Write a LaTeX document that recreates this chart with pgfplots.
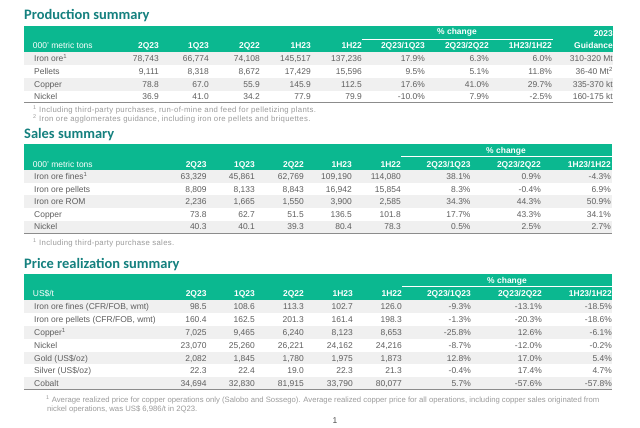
\documentclass[border=0pt]{standalone}
\usepackage{pgfplots}
\pgfplotsset{compat=1.18}
\usepackage{pgfplotstable}
\usepackage{fontspec}
\setmainfont{Liberation Sans}
\newfontfamily\titlefont{Carlito}
\newfontfamily\footfamily{Liberation Sans}[LetterSpace=4]
\definecolor{vgreen}{HTML}{0BB890}
\definecolor{vteal}{HTML}{14807E}
\definecolor{vtext}{HTML}{5E5E5E}
\definecolor{vband}{HTML}{F0F0F0}
\definecolor{vfoot}{HTML}{9A9A9A}
\definecolor{vline}{HTML}{8C8C8C}
\newcommand\tabfont{\fontsize{8.5}{10}\selectfont}
\newcommand\footfont{\footfamily\fontsize{7.8}{9}\selectfont}
\newcommand\footfontb{\fontsize{7.75}{9}\selectfont}
\newcommand\ttlfont{\titlefont\bfseries\fontsize{14.5}{16}\selectfont}
\newcommand\hdr[3]{\node[anchor=base east, inner sep=0pt, font=\tabfont\bfseries, text=white] at (axis cs:#1,#2) {#3};}
\newcommand\rlab[2]{\node[anchor=base west, inner sep=0pt, font=\tabfont, text=vtext] at (axis cs:34,#1) {#2};}
\newcommand\rtxt[2]{\node[anchor=base east, inner sep=0pt, font=\tabfont, text=vtext] at (axis cs:613,#1) {#2};}
\newcommand\band[4]{\fill[vband] (axis cs:#1,#2) rectangle (axis cs:#3,#4);}

% y = baseline position of the row (in px of the reference)
\pgfplotstableread{
y a b c d e f g h
61.8 78,743 66,774 74,108 145,517 137,236 17.9 6.3 6.0
74.5 9,111 8,318 8,672 17,429 15,596 9.5 5.1 11.8
87.2 78.8 67.0 55.9 145.9 112.5 17.6 41.0 29.7
99.9 36.9 41.0 34.2 77.9 79.9 -10.0 7.9 -2.5
}\prodtab
\pgfplotstableread{
y a b c d e f g h
179.3 63,329 45,861 62,769 109,190 114,080 38.1 0.9 -4.3
192.0 8,809 8,133 8,843 16,942 15,854 8.3 -0.4 6.9
204.5 2,236 1,665 1,550 3,900 2,585 34.3 44.3 50.9
217.3 73.8 62.7 51.5 136.5 101.8 17.7 43.3 34.1
229.8 40.3 40.1 39.3 80.4 78.3 0.5 2.5 2.7
}\salestab
\pgfplotstableread{
y a b c d e f g h
309.7 98.5 108.6 113.3 102.7 126.0 -9.3 -13.1 -18.5
322.5 160.4 162.5 201.3 161.4 198.3 -1.3 -20.3 -18.6
335.3 7,025 9,465 6,240 8,123 8,653 -25.8 12.6 -6.1
348.0 23,070 25,260 26,221 24,162 24,216 -8.7 -12.0 -0.2
361.0 2,082 1,845 1,780 1,975 1,873 12.8 17.0 5.4
373.7 22.3 22.4 19.0 22.3 21.3 -0.4 17.4 4.7
386.5 34,694 32,830 81,915 33,790 80,077 5.7 -57.6 -57.8
}\pricetab

\pgfplotsset{
  valcol/.style={draw=none, mark=none, forget plot, point meta=explicit symbolic,
    nodes near coords={\pgfplotspointmeta},
    every node near coord/.append style={anchor=base east, inner sep=0pt, font=\tabfont, text=vtext}},
  pctcol/.style={draw=none, mark=none, forget plot, point meta=explicit symbolic,
    nodes near coords={\pgfplotspointmeta\%},
    every node near coord/.append style={anchor=base east, inner sep=0pt, font=\tabfont, text=vtext}},
}

\begin{document}
\begin{tikzpicture}
\begin{axis}[scale only axis, width=640bp, height=427bp,
  xmin=0, xmax=640, ymin=0, ymax=427, y dir=reverse,
  axis lines=none, ticks=none, clip=false]
\path (axis cs:0,0) rectangle (axis cs:640,427);

% ---------- Production summary ----------
\node[anchor=base west, inner sep=0pt, font=\ttlfont, text=vteal] at (axis cs:24,20) {Production summary};
\fill[vgreen] (axis cs:24,26) rectangle (axis cs:613,52);
\band{24}{52}{613}{65.1}
\band{24}{77.8}{613}{90.5}
\draw[vline, line width=1.2pt] (axis cs:24,102.8) -- (axis cs:613,102.8);
\draw[white, line width=0.6pt] (axis cs:362,39) -- (axis cs:553,39);
\node[anchor=base, inner sep=0pt, font=\tabfont\bfseries, text=white] at (axis cs:457,35) {\% change};
\node[anchor=base west, inner sep=0pt, font=\tabfont, text=white] at (axis cs:32.7,48.5) {000' metric tons};
\hdr{159}{48.5}{2Q23}
\hdr{209}{48.5}{1Q23}
\hdr{260}{48.5}{2Q22}
\hdr{311}{48.5}{1H23}
\hdr{362}{48.5}{1H22}
\hdr{425}{48.5}{2Q23/1Q23}
\hdr{489}{48.5}{2Q23/2Q22}
\hdr{552}{48.5}{1H23/1H22}
\hdr{613}{48.5}{Guidance}
\hdr{613}{37}{2023}
\rlab{61.8}{Iron ore\textsuperscript{1}}
\rlab{74.5}{Pellets}
\rlab{87.2}{Copper}
\rlab{99.9}{Nickel}
\rtxt{61.8}{310-320 Mt}
\rtxt{74.5}{36-40 Mt\textsuperscript{2}}
\rtxt{87.2}{335-370 kt}
\rtxt{99.9}{160-175 kt}
\addplot[valcol] table[x expr=159, y=y, meta=a] {\prodtab};
\addplot[valcol] table[x expr=209, y=y, meta=b] {\prodtab};
\addplot[valcol] table[x expr=260, y=y, meta=c] {\prodtab};
\addplot[valcol] table[x expr=311, y=y, meta=d] {\prodtab};
\addplot[valcol] table[x expr=362, y=y, meta=e] {\prodtab};
\addplot[pctcol] table[x expr=425, y=y, meta=f] {\prodtab};
\addplot[pctcol] table[x expr=489, y=y, meta=g] {\prodtab};
\addplot[pctcol] table[x expr=552, y=y, meta=h] {\prodtab};
\node[anchor=base west, inner sep=0pt, font=\footfont, text=vfoot] at (axis cs:33,112.5) {\textsuperscript{1} Including third-party purchases, run-of-mine and feed for pelletizing plants.};
\node[anchor=base west, inner sep=0pt, font=\footfont, text=vfoot] at (axis cs:33,121.5) {\textsuperscript{2} Iron ore agglomerates guidance, including iron ore pellets and briquettes.};

% ---------- Sales summary ----------
\node[anchor=base west, inner sep=0pt, font=\ttlfont, text=vteal] at (axis cs:24,138.3) {Sales summary};
\fill[vgreen] (axis cs:24,144) rectangle (axis cs:611.5,169.8);
\band{24}{169.8}{611.5}{182.6}
\band{24}{195.1}{611.5}{207.8}
\band{24}{220.5}{611.5}{233.2}
\draw[vline, line width=1.2pt] (axis cs:24,233.4) -- (axis cs:611.5,233.4);
\draw[white, line width=0.6pt] (axis cs:401,156.7) -- (axis cs:611.5,156.7);
\node[anchor=base, inner sep=0pt, font=\tabfont\bfseries, text=white] at (axis cs:506,153) {\% change};
\node[anchor=base west, inner sep=0pt, font=\tabfont, text=white] at (axis cs:32.7,167) {000' metric tons};
\hdr{206.7}{167}{2Q23}
\hdr{255}{167}{1Q23}
\hdr{304}{167}{2Q22}
\hdr{352}{167}{1H23}
\hdr{401}{167}{1H22}
\hdr{470.7}{167}{2Q23/1Q23}
\hdr{541}{167}{2Q23/2Q22}
\hdr{611}{167}{1H23/1H22}
\rlab{179.3}{Iron ore fines\textsuperscript{1}}
\rlab{192.0}{Iron ore pellets}
\rlab{204.5}{Iron ore ROM}
\rlab{217.3}{Copper}
\rlab{229.8}{Nickel}
\addplot[valcol] table[x expr=206.7, y=y, meta=a] {\salestab};
\addplot[valcol] table[x expr=255, y=y, meta=b] {\salestab};
\addplot[valcol] table[x expr=304, y=y, meta=c] {\salestab};
\addplot[valcol] table[x expr=352, y=y, meta=d] {\salestab};
\addplot[valcol] table[x expr=401, y=y, meta=e] {\salestab};
\addplot[pctcol] table[x expr=470.7, y=y, meta=f] {\salestab};
\addplot[pctcol] table[x expr=541, y=y, meta=g] {\salestab};
\addplot[pctcol] table[x expr=611, y=y, meta=h] {\salestab};
\node[anchor=base west, inner sep=0pt, font=\footfont, text=vfoot] at (axis cs:33,245.5) {\textsuperscript{1} Including third-party purchase sales.};

% ---------- Price realization summary ----------
\node[anchor=base west, inner sep=0pt, font=\ttlfont, text=vteal] at (axis cs:24,268.3) {Price realization summary};
\fill[vgreen] (axis cs:24,274) rectangle (axis cs:612,300.2);
\band{24}{300.2}{612}{313.0}
\band{24}{325.8}{612}{338.7}
\band{24}{351.5}{612}{364.4}
\band{24}{377.1}{612}{389.5}
\draw[vline, line width=1.2pt] (axis cs:24,389.6) -- (axis cs:612,389.6);
\draw[white, line width=0.6pt] (axis cs:402,286.7) -- (axis cs:612,286.7);
\node[anchor=base, inner sep=0pt, font=\tabfont\bfseries, text=white] at (axis cs:507,283.7) {\% change};
\node[anchor=base west, inner sep=0pt, font=\tabfont, text=white] at (axis cs:32.7,296) {US\$/t};
\hdr{206.7}{296}{2Q23}
\hdr{255}{296}{1Q23}
\hdr{304}{296}{2Q22}
\hdr{353}{296}{1H23}
\hdr{402}{296}{1H22}
\hdr{471}{296}{2Q23/1Q23}
\hdr{542}{296}{2Q23/2Q22}
\hdr{612}{296}{1H23/1H22}
\rlab{309.7}{Iron ore fines (CFR/FOB, wmt)}
\rlab{322.5}{Iron ore pellets (CFR/FOB, wmt)}
\rlab{335.3}{Copper\textsuperscript{1}}
\rlab{348.0}{Nickel}
\rlab{361.0}{Gold (US\$/oz)}
\rlab{373.7}{Silver (US\$/oz)}
\rlab{386.5}{Cobalt}
\addplot[valcol] table[x expr=206.7, y=y, meta=a] {\pricetab};
\addplot[valcol] table[x expr=255, y=y, meta=b] {\pricetab};
\addplot[valcol] table[x expr=304, y=y, meta=c] {\pricetab};
\addplot[valcol] table[x expr=353, y=y, meta=d] {\pricetab};
\addplot[valcol] table[x expr=402, y=y, meta=e] {\pricetab};
\addplot[pctcol] table[x expr=471, y=y, meta=f] {\pricetab};
\addplot[pctcol] table[x expr=542, y=y, meta=g] {\pricetab};
\addplot[pctcol] table[x expr=612, y=y, meta=h] {\pricetab};
\node[anchor=base west, inner sep=0pt, font=\footfontb, text=vfoot] at (axis cs:46,402) {\textsuperscript{1} Average realized price for copper operations only (Salobo and Sossego). Average realized copper price for all operations, including copper sales originated from};
\node[anchor=base west, inner sep=0pt, font=\footfontb, text=vfoot] at (axis cs:47,411) {nickel operations, was US\$ 6,986/t in 2Q23.};
\node[anchor=base, inner sep=0pt, font=\tabfont, text=black!70] at (axis cs:335,423) {1};
\end{axis}
\end{tikzpicture}
\end{document}
